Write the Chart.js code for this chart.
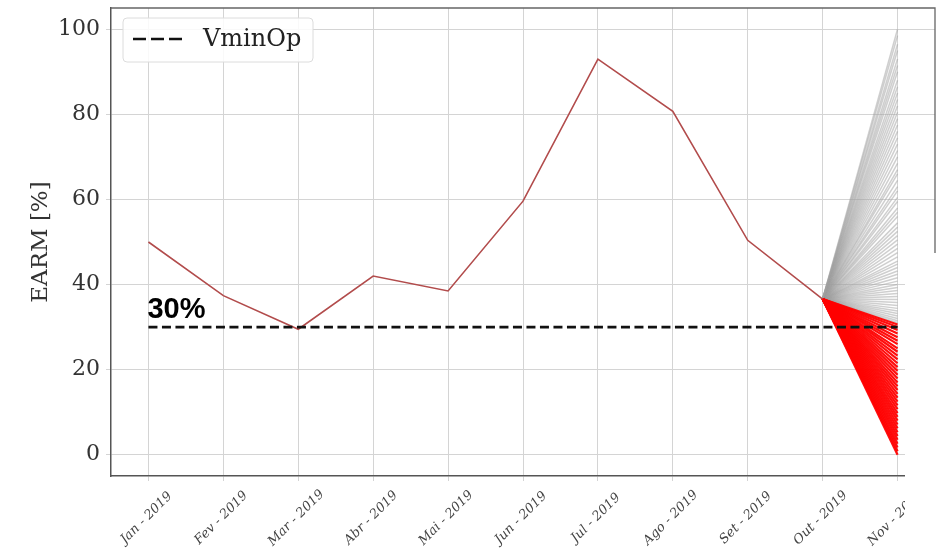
<!DOCTYPE html>
<html>
<head>
<meta charset="utf-8">
<script src="https://cdn.jsdelivr.net/npm/chart.js@4/dist/chart.umd.min.js"></script>
<style>
  html, body { margin: 0; padding: 0; background: #fff; }
  #wrap { width: 949px; height: 554px; }
</style>
</head>
<body>
<div id="wrap"><canvas id="c" width="949" height="554"></canvas></div>
<script>
// Monthly EARM values and the November scenario fan
const months = ['Jan - 2019', 'Fev - 2019', 'Mar - 2019', 'Abr - 2019', 'Mai - 2019', 'Jun - 2019',
                'Jul - 2019', 'Ago - 2019', 'Set - 2019', 'Out - 2019', 'Nov - 2019'];
const earm = [50, 37.4, 29.5, 42, 38.5, 59.6, 93, 80.7, 50.4, 36.6];
const vminOp = [30, 30, 30, 30, 30, 30, 30, 30, 30, 30, 30];
const yTicks = [0, 20, 40, 60, 80, 100];

// November scenarios at or above the operating minimum
const novAbove = [100, 98.5, 96.5, 95, 93, 91.5, 90, 88, 86.5, 85, 83.5, 82, 80.5, 79, 77.5, 76, 74.5,
                  73, 71.5, 70, 68.5, 67, 66, 64.5, 63, 62, 60.5, 59.5, 58, 57, 56, 54.5, 53.5, 52.5,
                  51.5, 50.5, 49.5, 48.5, 47.5, 46.5, 45.5, 44.8, 44, 43.2, 42.4, 41.6, 40.8, 40, 39.3,
                  38.6, 37.9, 37.2, 36.5, 35.8, 35.1, 34.4, 33.8, 33.2, 32.6, 32, 31.5, 31];
// November scenarios below the operating minimum
const novBelow = [30.6, 30, 29.3, 28.5, 27.6, 26.8, 26, 25, 24.2, 23.3, 22.4, 21.5, 20.6, 19.7, 18.8,
                  17.9, 17, 16.1, 15.2, 14.3, 13.4, 12.5, 11.6, 10.7, 9.8, 8.9, 8, 7.1, 6.2, 5.3,
                  4.4, 3.5, 2.6, 1.7, 0.8, 0];

const SERIF = "'DejaVu Serif', serif";
const lastIdx = earm.length - 1;

function fanData(end) {
  return months.map((_, i) => (i === lastIdx ? earm[lastIdx] : (i === lastIdx + 1 ? end : null)));
}

const datasets = [
  { label: 'VminOp', data: vminOp, borderColor: '#111', borderWidth: 2.6, borderDash: [9, 4.5] },
  { label: 'EARM', data: earm, borderColor: '#b24c4c', borderWidth: 1.6 }
];
novBelow.forEach(v => datasets.push({ label: 'below', data: fanData(v), borderColor: 'rgba(255,0,0,0.95)', borderWidth: 2.2 }));
novAbove.forEach(v => datasets.push({ label: 'above', data: fanData(v), borderColor: 'rgba(160,160,160,0.5)', borderWidth: 1.5 }));

const extras = {
  id: 'extras',
  afterDraw(chart) {
    const { ctx, chartArea: a, scales } = chart;
    ctx.save();
    // top and right frame lines
    ctx.strokeStyle = '#666';
    ctx.lineWidth = 1.3;
    ctx.beginPath();
    ctx.moveTo(a.left, a.top);
    ctx.lineTo(a.right, a.top);
    ctx.lineTo(a.right, a.bottom);
    ctx.stroke();

    // month labels, rotated 45 degrees and centred under each tick
    ctx.font = 'italic 13px ' + SERIF;
    ctx.fillStyle = '#444';
    ctx.textAlign = 'center';
    ctx.textBaseline = 'middle';
    months.forEach((m, i) => {
      const x = scales.x.getPixelForValue(i) - 2;
      ctx.save();
      ctx.translate(x, a.bottom + 42);
      ctx.rotate(-Math.PI / 4);
      ctx.fillText(m, 0, 0);
      ctx.restore();
    });

    // legend box
    const bx = 123, by = 18, bw = 190, bh = 44, r = 4;
    ctx.beginPath();
    ctx.moveTo(bx + r, by);
    ctx.arcTo(bx + bw, by, bx + bw, by + bh, r);
    ctx.arcTo(bx + bw, by + bh, bx, by + bh, r);
    ctx.arcTo(bx, by + bh, bx, by, r);
    ctx.arcTo(bx, by, bx + bw, by, r);
    ctx.closePath();
    ctx.fillStyle = 'rgba(255,255,255,0.85)';
    ctx.fill();
    ctx.strokeStyle = '#dcdcdc';
    ctx.lineWidth = 1;
    ctx.stroke();
    ctx.beginPath();
    ctx.setLineDash([13, 5]);
    ctx.strokeStyle = '#111';
    ctx.lineWidth = 2.6;
    ctx.moveTo(133, 39);
    ctx.lineTo(183, 39);
    ctx.stroke();
    ctx.setLineDash([]);
    ctx.fillStyle = '#222';
    ctx.font = '24px ' + SERIF;
    ctx.textAlign = 'left';
    ctx.textBaseline = 'middle';
    ctx.fillText('VminOp', 203, 40);

    // threshold annotation
    const tx = scales.x.getPixelForValue(0) - 1;
    const ty = scales.y.getPixelForValue(vminOp[0]) - 9;
    ctx.font = "bold 29px 'Liberation Sans', Arial, sans-serif";
    ctx.fillStyle = '#000';
    ctx.textBaseline = 'alphabetic';
    ctx.fillText(vminOp[0] + '%', tx, ty);

    // the lower right corner of the figure is blank
    ctx.fillStyle = '#fff';
    ctx.fillRect(905, 253, chart.width - 905, chart.height - 253);
    ctx.restore();
  }
};

new Chart(document.getElementById('c'), {
  type: 'line',
  data: { labels: months, datasets },
  options: {
    responsive: false,
    animation: false,
    devicePixelRatio: 1,
    layout: { padding: { top: 8, right: 14, left: 0, bottom: 0 } },
    elements: { point: { radius: 0, hoverRadius: 0 }, line: { tension: 0 } },
    plugins: { legend: { display: false }, tooltip: { enabled: false } },
    events: [],
    scales: {
      x: {
        type: 'category',
        offset: true,
        grid: { offset: false, color: '#d4d4d4', lineWidth: 1, tickLength: 5 },
        border: { color: '#555', width: 1.5 },
        ticks: { display: false, autoSkip: false },
        afterFit(s) { s.height = 78; s.paddingLeft = 0; s.paddingRight = 0; }
      },
      y: {
        min: -5, max: 105,
        afterBuildTicks(s) { s.ticks = yTicks.map(v => ({ value: v })); },
        grid: { color: '#d4d4d4', lineWidth: 1, tickLength: 5 },
        border: { color: '#555', width: 1.5 },
        ticks: { padding: 6, color: '#333', font: { family: SERIF, size: 22 } },
        title: {
          display: true, text: 'EARM [%]', color: '#333',
          font: { family: SERIF, size: 23 }, padding: { top: 27, bottom: 0 }
        },
        afterFit(s) { s.width = 111; s.paddingTop = 0; s.paddingBottom = 0; }
      }
    }
  },
  plugins: [extras]
});
</script>
</body>
</html>
